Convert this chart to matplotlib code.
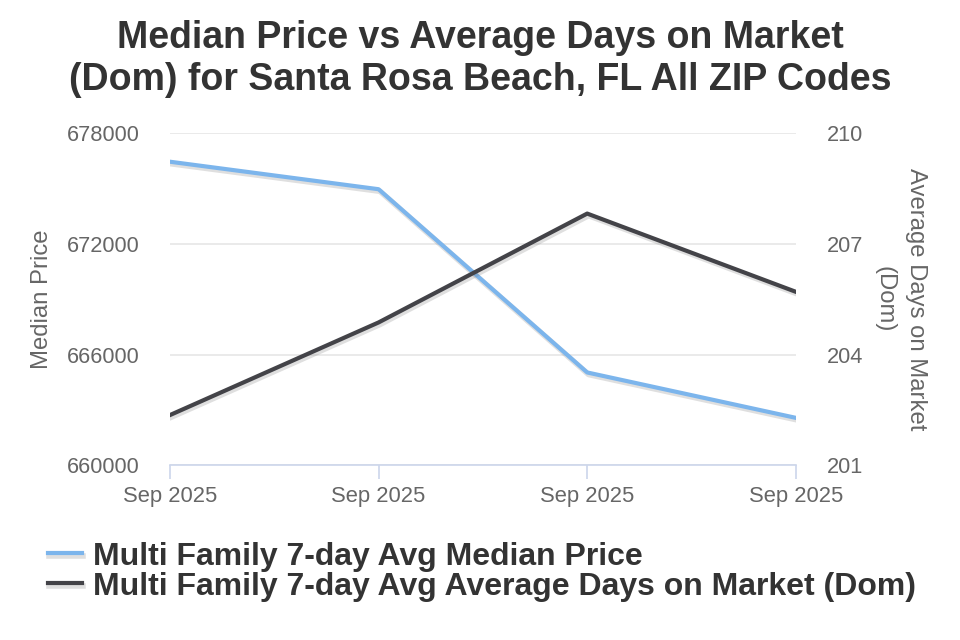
import matplotlib.pyplot as plt
import matplotlib.patheffects as pe

plt.rcParams['font.family'] = ['Liberation Sans', 'DejaVu Sans']

# data
dates = ["Sep 2025", "Sep 2025", "Sep 2025", "Sep 2025"]
median_price = [676450, 674960, 665030, 662570]
avg_dom = [202.36, 204.87, 207.82, 205.70]

price_ticks = [660000, 666000, 672000, 678000]
dom_ticks = [201, 204, 207, 210]

blue = "#7cb5ec"
dark = "#434348"
shadow = [pe.SimpleLineShadow(offset=(1, -1.5), shadow_color="gray", alpha=0.25, linewidth=4), pe.Normal()]

fig = plt.figure(figsize=(9.6, 6.4), dpi=100)
ax = fig.add_axes([0.177, 0.273, 0.652, 0.519])
ax2 = ax.twinx()

x = list(range(len(dates)))
l1, = ax.plot(x, median_price, color=blue, lw=3, path_effects=shadow, zorder=3,
              label="Multi Family 7-day Avg Median Price")
l2, = ax2.plot(x, avg_dom, color=dark, lw=3, path_effects=shadow, zorder=3,
               label="Multi Family 7-day Avg Average Days on Market (Dom)")

ax.set_xlim(0, 3)
ax.set_ylim(660000, 678000)
ax2.set_ylim(201, 210)
ax.set_yticks(price_ticks)
ax.set_yticklabels([str(v) for v in price_ticks])
ax2.set_yticks(dom_ticks)
ax.set_xticks(x)
ax.set_xticklabels(dates)

ax.grid(axis='y', color="#e6e6e6", lw=1.2)
ax.set_axisbelow(True)
for a in (ax, ax2):
    for s in ("top", "left", "right", "bottom"):
        a.spines[s].set_visible(False)
ax.spines["bottom"].set_visible(True)
ax.spines["bottom"].set_color("#ccd6eb")
ax.spines["bottom"].set_linewidth(1.2)

ax.tick_params(axis='x', direction='out', length=10, width=1.2, color="#ccd6eb",
               labelsize=15.8, labelcolor="#666666", pad=5)
ax.tick_params(axis='y', length=0, labelsize=15.7, labelcolor="#666666", pad=22)
ax2.tick_params(axis='y', length=0, labelsize=15.7, labelcolor="#666666", pad=22)

ax.set_ylabel("Median Price", fontsize=17.2, color="#666666", labelpad=10)
ax2.set_ylabel("Average Days on Market\n(Dom)", fontsize=17.2, color="#666666",
               rotation=270, labelpad=46, linespacing=1.55)

fig.suptitle("Median Price vs Average Days on Market\n(Dom) for Santa Rosa Beach, FL All ZIP Codes",
             fontsize=27, fontweight="bold", color="#333333", y=0.968, linespacing=1.2)

fig.legend(handles=[l1, l2], loc="lower left", bbox_to_anchor=(0.05, 0.06), frameon=False,
           prop={"size": 23, "weight": "bold"}, labelcolor="#333333",
           handlelength=1.05, handletextpad=0.35, labelspacing=0.0, borderpad=0, borderaxespad=0)

plt.savefig("out.png", dpi=100)
